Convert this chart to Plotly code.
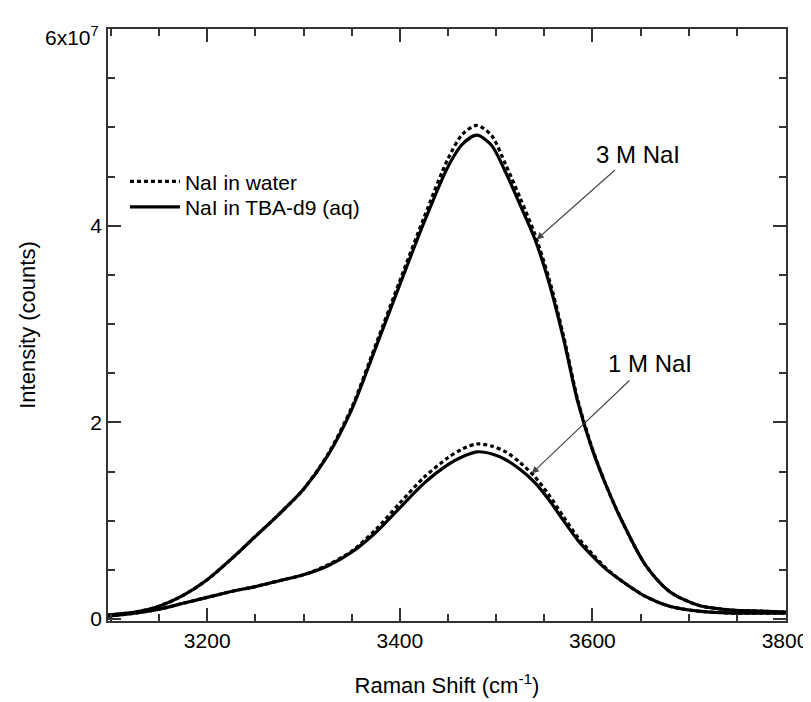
import plotly.graph_objects as go

# Raman shift grid (cm^-1)
shift = [3097, 3125, 3150, 3175, 3200, 3225, 3250, 3275, 3300, 3325, 3350, 3375,
         3400, 3425, 3450, 3465, 3480, 3495, 3510, 3525, 3540, 3555, 3570, 3585,
         3600, 3615, 3630, 3655, 3680, 3710, 3745, 3775, 3801]

# Intensities in units of 1e7 counts
nai3_water = [0.04, 0.07, 0.13, 0.24, 0.40, 0.61, 0.84, 1.07, 1.32, 1.67, 2.15, 2.79,
              3.44, 4.08, 4.68, 4.93, 5.02, 4.92, 4.62, 4.28, 3.92, 3.46, 2.88, 2.22,
              1.73, 1.34, 1.01, 0.55, 0.28, 0.14, 0.09, 0.08, 0.07]
nai3_tba = [0.04, 0.07, 0.13, 0.24, 0.40, 0.61, 0.84, 1.07, 1.32, 1.66, 2.13, 2.76,
            3.40, 4.03, 4.60, 4.83, 4.92, 4.82, 4.54, 4.21, 3.87, 3.42, 2.85, 2.20,
            1.72, 1.34, 1.01, 0.55, 0.28, 0.14, 0.09, 0.08, 0.07]
nai1_water = [0.03, 0.06, 0.10, 0.16, 0.22, 0.28, 0.33, 0.39, 0.45, 0.55, 0.69, 0.91,
              1.18, 1.44, 1.64, 1.73, 1.78, 1.76, 1.70, 1.59, 1.45, 1.26, 1.04, 0.83,
              0.66, 0.51, 0.39, 0.23, 0.13, 0.08, 0.06, 0.06, 0.06]
nai1_tba = [0.03, 0.06, 0.10, 0.16, 0.22, 0.28, 0.33, 0.39, 0.45, 0.54, 0.68, 0.88,
            1.13, 1.38, 1.57, 1.65, 1.70, 1.68, 1.62, 1.52, 1.39, 1.21, 1.00, 0.80,
            0.64, 0.50, 0.39, 0.23, 0.13, 0.08, 0.06, 0.06, 0.06]

SCALE = 1e7
y_tickvals = [0, 2, 4, 6]
y_ticktext = ["0", "2", "4", ""]
y_top_label = "6x10<sup>7</sup>"
x_tickvals = [3200, 3400, 3600, 3800]

legend_names = ["NaI in water", "NaI in TBA-d9 (aq)"]

# annotation anchors (data units: cm^-1, 1e7 counts)
label_3m = ("3 M NaI", 3647, 4.72)
arrow_3m = (3625, 4.58, 3542, 3.86)
label_1m = ("1 M NaI", 3660, 2.60)
arrow_1m = (3640, 2.44, 3537, 1.48)

FONT = "Liberation Sans, Arial, sans-serif"

def scaled(v):
    return [a * SCALE for a in v]

fig = go.Figure()
line_dot = dict(color="black", width=3.2, dash="4px,3px", shape="spline", smoothing=0.8)
line_sol = dict(color="black", width=3.2, shape="spline", smoothing=0.8)

fig.add_trace(go.Scatter(x=shift, y=scaled(nai3_water), mode="lines", line=line_dot,
                         name=legend_names[0], legendgroup="w", legend="legend"))
fig.add_trace(go.Scatter(x=shift, y=scaled(nai3_tba), mode="lines", line=line_sol,
                         name=legend_names[1], legendgroup="t", legend="legend2"))
fig.add_trace(go.Scatter(x=shift, y=scaled(nai1_water), mode="lines", line=line_dot,
                         name=legend_names[0], legendgroup="w", showlegend=False))
fig.add_trace(go.Scatter(x=shift, y=scaled(nai1_tba), mode="lines", line=line_sol,
                         name=legend_names[1], legendgroup="t", showlegend=False))

for (txt, lx, ly), (x0, y0, x1, y1) in [(label_3m, arrow_3m), (label_1m, arrow_1m)]:
    fig.add_annotation(x=lx, y=ly * SCALE, text=txt, showarrow=False,
                       font=dict(size=24, color="black", family=FONT))
    fig.add_annotation(x=x1, y=y1 * SCALE, ax=x0, ay=y0 * SCALE, axref="x", ayref="y",
                       text="", showarrow=True, arrowhead=2, arrowsize=1.3,
                       arrowwidth=1.1, arrowcolor="#444")

# top y tick label (sits a little below the 6e7 tick, as in the original)
fig.add_annotation(xref="paper", x=0, y=y_tickvals[-1] * SCALE, yref="y",
                   text=y_top_label, showarrow=False, xanchor="right",
                   xshift=-7, yshift=-7,
                   font=dict(size=21, color="black", family=FONT))

axis_common = dict(showline=True, linecolor="#333", linewidth=1.8, mirror="ticks",
                   ticks="inside", ticklen=13, tickwidth=1.8, tickcolor="#333",
                   showgrid=False, zeroline=False, automargin=False,
                   tickfont=dict(size=21, color="black", family=FONT))

fig.update_xaxes(range=[3097, 3801], tickvals=x_tickvals,
                 minor=dict(dtick=50, tick0=3000, ticks="inside", ticklen=7,
                            tickwidth=1.8, tickcolor="#333", showgrid=False),
                 title=dict(text="Raman Shift (cm<sup>-1</sup>)", standoff=27,
                            font=dict(size=22, color="black", family=FONT)),
                 **axis_common)
fig.update_yaxes(range=[-0.02 * SCALE, 6 * SCALE],
                 tickvals=[v * SCALE for v in y_tickvals], ticktext=y_ticktext,
                 minor=dict(dtick=0.5 * SCALE, tick0=0, ticks="inside", ticklen=7,
                            tickwidth=1.8, tickcolor="#333", showgrid=False),
                 title=dict(text="Intensity (counts)", standoff=49,
                            font=dict(size=22, color="black", family=FONT)),
                 **axis_common)

legend_style = dict(xanchor="left", yanchor="middle", bgcolor="rgba(0,0,0,0)",
                    font=dict(size=21, family=FONT, color="black"), itemwidth=50)
fig.update_layout(
    width=803, height=694,
    margin=dict(l=100, r=25, t=21, b=81),
    paper_bgcolor="white", plot_bgcolor="white",
    font=dict(family=FONT, size=21, color="black"),
    legend=dict(x=0.025, y=0.742, **legend_style),
    legend2=dict(x=0.025, y=0.699, **legend_style),
    showlegend=True,
)

fig.write_html("out.html")
